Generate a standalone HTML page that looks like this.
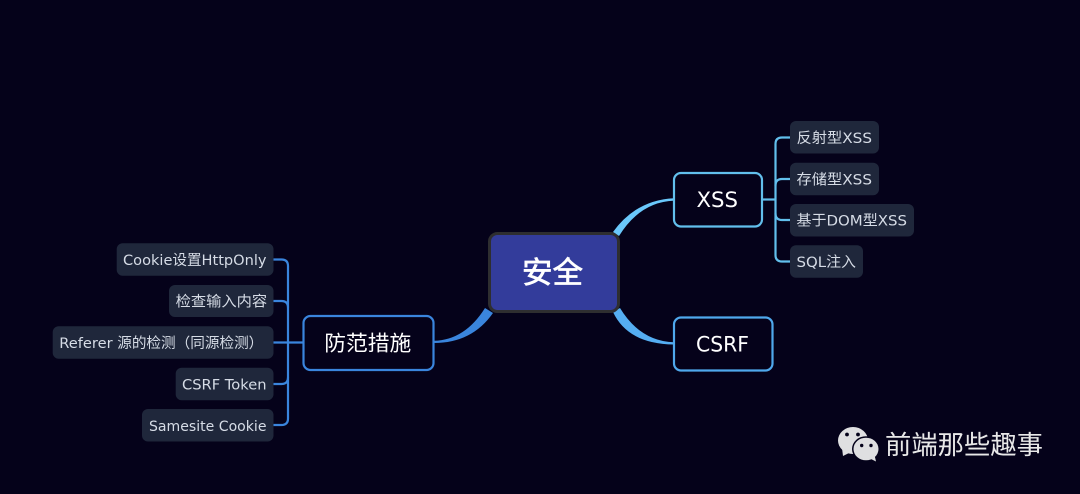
<!DOCTYPE html>
<html>
<head>
<meta charset="utf-8">
<style>
html,body{margin:0;padding:0;background:#05021a;width:1080px;height:494px;overflow:hidden}
svg{display:block}
text{font-family:"DejaVu Sans","Noto Sans CJK SC",sans-serif}
.l{fill:#d6dce6;font-size:14.500px}
.m{fill:#fff;font-size:21px}
.c{font-family:"Liberation Sans","Noto Sans CJK SC",sans-serif}
</style>
</head>
<body>
<svg width="1080" height="494" viewBox="0 0 1080 494" xmlns="http://www.w3.org/2000/svg">
<rect width="1080" height="494" fill="#05021a"/>

<!-- tapered main connectors -->
<path d="M613 232Q636 200 674 198.200L674 200.600Q640 202 619 236Z" fill="#6ac8fb"/>
<path d="M613 312Q628 344 674 344.500L674 342.300Q640 341 620 308Z" fill="#55aef2"/>
<path d="M485 308Q465 340 434 340.800L434 343Q472 343 493 313Z" fill="#3a85dd"/>

<!-- right tree -->
<g fill="none" stroke="#62bfec" stroke-width="2.200">
<path d="M762 199.500H775"/>
<path d="M790 137.500H782Q775.500 137.500 775.500 144V255Q775.500 261.500 782 261.500H790"/>
<path d="M790 179H782Q775.500 179 775.500 185.500"/>
<path d="M790 220H782Q775.500 220 775.500 213.500"/>
</g>

<!-- left tree -->
<g fill="none" stroke="#3a85dd" stroke-width="2.200">
<path d="M303 342.500H273"/>
<path d="M273 259.500H281.500Q288 259.500 288 266V418.500Q288 425 281.500 425H273"/>
<path d="M273 301H281.500Q288 301 288 307.500"/>
<path d="M273 384H281.500Q288 384 288 377.500"/>
</g>

<!-- central node -->
<rect x="489.500" y="233.500" width="129" height="78" rx="8" fill="#333c9b" stroke="#2e2e30" stroke-width="3"/>
<text x="522" y="283" font-size="30" fill="#fff" stroke="#fff" stroke-width="0.700" textLength="61" lengthAdjust="spacingAndGlyphs">安全</text>

<!-- level-1 nodes -->
<rect x="674" y="173" width="88" height="53.500" rx="7" fill="#05021a" stroke="#62bfec" stroke-width="2.200"/>
<text class="m" x="696.500" y="207" textLength="41.500" lengthAdjust="spacingAndGlyphs">XSS</text>

<rect x="674" y="317.500" width="98.500" height="53" rx="7" fill="#05021a" stroke="#4fa8ec" stroke-width="2.200"/>
<text class="m" x="696" y="351.500" textLength="53" lengthAdjust="spacingAndGlyphs">CSRF</text>

<rect x="303.500" y="316" width="130" height="54" rx="7" fill="#05021a" stroke="#3a85dd" stroke-width="2.200"/>
<text class="m" x="324.300" y="350.500" textLength="87" lengthAdjust="spacingAndGlyphs">防范措施</text>

<!-- right leaves -->
<g fill="#1f273b">
<rect x="790" y="121" width="89" height="32.500" rx="6"/>
<rect x="790" y="162.700" width="89" height="32.500" rx="6"/>
<rect x="790" y="204" width="124" height="32.500" rx="6"/>
<rect x="790" y="245.300" width="73" height="32.500" rx="6"/>
</g>
<text class="l" x="796.500" y="143" textLength="75.500" lengthAdjust="spacingAndGlyphs">反射型XSS</text>
<text class="l" x="796.500" y="184.500" textLength="75.500" lengthAdjust="spacingAndGlyphs">存储型XSS</text>
<text class="l" x="796.500" y="225.500" textLength="110.500" lengthAdjust="spacingAndGlyphs">基于DOM型XSS</text>
<text class="l" x="796.500" y="267" textLength="59.500" lengthAdjust="spacingAndGlyphs">SQL注入</text>

<!-- left leaves -->
<g fill="#1f273b">
<rect x="116.700" y="243.300" width="156.800" height="32.500" rx="6"/>
<rect x="169" y="285" width="104.500" height="32" rx="6"/>
<rect x="52.700" y="326.300" width="220.800" height="32.500" rx="6"/>
<rect x="175.700" y="367.700" width="97.800" height="32.500" rx="6"/>
<rect x="142" y="409" width="131.500" height="32.500" rx="6"/>
</g>
<text class="l" x="123" y="265" textLength="143.500" lengthAdjust="spacingAndGlyphs">Cookie设置HttpOnly</text>
<text class="l" x="175.700" y="306.500" textLength="91.500" lengthAdjust="spacingAndGlyphs">检查输入内容</text>
<text class="l" x="59.300" y="348" textLength="204" lengthAdjust="spacingAndGlyphs">Referer 源的检测（同源检测）</text>
<text class="l" x="182" y="389.500" textLength="84.500" lengthAdjust="spacingAndGlyphs">CSRF Token</text>
<text class="l" x="149" y="431" textLength="117.500" lengthAdjust="spacingAndGlyphs">Samesite Cookie</text>

<!-- watermark icon -->
<ellipse cx="853" cy="440.500" rx="15" ry="13.500" fill="#dfdfe1"/>
<path d="M842 448L843 456L851 452Z" fill="#dfdfe1"/>
<circle cx="847" cy="434.500" r="1.900" fill="#05021a"/>
<circle cx="858" cy="434.500" r="1.900" fill="#05021a"/>
<ellipse cx="866" cy="449" rx="14" ry="12.800" fill="#05021a"/>
<ellipse cx="866" cy="449" rx="12.500" ry="11.300" fill="#dfdfe1"/>
<path d="M869 458L876 461.500L874.500 455Z" fill="#dfdfe1"/>
<circle cx="861.700" cy="445.500" r="1.700" fill="#05021a"/>
<circle cx="871" cy="445.500" r="1.700" fill="#05021a"/>
<text x="885" y="454" font-size="26" fill="#e8e8e8" textLength="158" lengthAdjust="spacingAndGlyphs">前端那些趣事</text>
</svg>
</body>
</html>
